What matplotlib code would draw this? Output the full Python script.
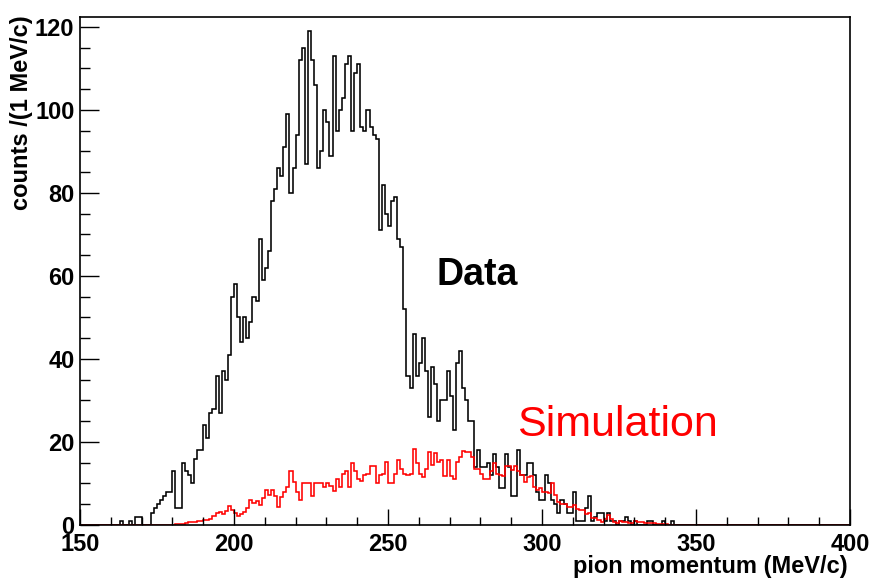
import numpy as np
import matplotlib
matplotlib.use("Agg")
import matplotlib.pyplot as plt
from matplotlib.ticker import MultipleLocator

plt.rcParams['font.family'] = ['Liberation Sans', 'DejaVu Sans']

# 1 MeV/c bins from 150 to 400
bin_edges = np.arange(150, 401, 1)

# measured counts, bins 150..399
data_counts = (
    [0] * 13 +                                            # 150-162
    [1, 0, 0, 1, 0, 2, 2, 0, 0, 0] +                      # 163-172
    [3, 4, 5, 6, 7, 8, 8, 13, 4, 4] +                     # 173-182
    [15, 13, 12, 10, 16, 18, 18, 24, 21, 27] +            # 183-192
    [28, 36, 27, 37, 35, 41, 55, 58, 50, 44] +            # 193-202
    [50, 45, 49, 55, 54, 69, 59, 62, 66, 78] +            # 203-212
    [81, 86, 84, 91, 99, 80, 86, 94, 112, 115] +          # 213-222
    [87, 119, 112, 106, 86, 90, 100, 97, 89, 113] +       # 223-232
    [95, 100, 103, 111, 113, 95, 109, 111, 96, 95] +      # 233-242
    [100, 96, 94, 93, 71, 82, 75, 72, 78, 79] +           # 243-252
    [69, 67, 52, 36, 33, 46, 36, 39, 45, 37] +            # 253-262
    [26, 38, 34, 25, 30, 30, 37, 31, 23, 39] +            # 263-272
    [42, 33, 30, 25, 25, 14, 18, 14, 14, 15] +            # 273-282
    [12, 17, 14, 9, 9, 17, 14, 7, 7, 18] +                # 283-292
    [12, 12, 15, 15, 12, 8, 6, 6, 12, 10] +               # 293-302
    [6, 5, 3, 6, 5, 3, 3, 8, 1, 1] +                      # 303-312
    [1, 4, 7, 1, 2, 3, 3, 1, 3, 1] +                      # 313-322
    [1, 0, 1, 1, 2, 1, 0, 1, 0, 0] +                      # 323-332
    [0, 1, 1, 0, 0, 0, 1, 0, 0, 1] +                      # 333-342
    [0] * 57                                              # 343-399
)

# simulation (scaled), bins 150..399
sim_counts = (
    [0] * 30 +                                            # 150-179
    [0.1, 0.2, 0.2] +                                     # 180-182
    [0.3, 0.5, 0.7, 0.8, 0.8, 1.0, 1.0, 1.2, 1.3, 1.5] +  # 183-192
    [2.2, 3.0, 3.2, 2.6, 3.3, 4.6, 3.6, 2.9, 2.2, 2.6] +  # 193-202
    [3.2, 4.0, 6.0, 5.4, 5.9, 4.8, 6.4, 8.4, 7.2, 8.4] +  # 203-212
    [7.0, 4.4, 6.8, 8.0, 9.1, 12.9, 10.4, 8.0, 6.0, 10.0] +     # 213-222
    [10.2, 10.2, 7.0, 10.2, 10.0, 10.0, 9.2, 10.2, 9.5, 8.3] +  # 223-232
    [11.2, 9.2, 12.4, 12.9, 9.2, 14.9, 13.1, 11.0, 10.7, 12.0] +  # 233-242
    [12.4, 14.2, 14.2, 10.2, 12.0, 12.4, 15.3, 10.0, 10.2, 12.4] +  # 243-252
    [15.6, 13.4, 12.4, 12.0, 12.4, 18.3, 14.9, 12.4, 11.5, 13.4] +  # 253-262
    [17.5, 14.5, 17.3, 15.1, 15.6, 11.7, 15.6, 11.7, 11.2, 15.1] +  # 263-272
    [16.3, 17.9, 17.5, 17.5, 16.5, 13.4, 13.4, 12.4, 11.2, 11.2] +  # 273-282
    [12.9, 15.0, 12.4, 12.0, 11.8, 14.1, 14.1, 13.3, 14.2, 12.9] +  # 283-292
    [12.0, 10.4, 11.5, 11.8, 9.2, 8.4, 8.8, 8.0, 8.0, 7.6] +    # 293-302
    [10.0, 7.2, 5.6, 5.1, 5.1, 4.4, 4.4, 4.8, 3.8, 3.6] +       # 303-312
    [3.6, 2.6, 3.0, 1.8, 1.8, 1.2, 0.8, 1.4, 2.4, 1.4] +        # 313-322
    [0.8, 0.6, 1.0, 0.8, 0.8, 0.6, 0.6, 1.0, 0.8, 0.8] +        # 323-332
    [0.4, 0.4, 0.6, 0.6, 0.3, 0.2, 0.2, 0.2, 0.1, 0.1] +        # 333-342
    [0.1, 0.1] +                                                # 343-344
    [0] * 55                                                    # 345-399
)

fig = plt.figure(figsize=(8.69, 5.80), dpi=100)
ax = fig.add_axes([80 / 869, 55 / 580, 770 / 869, 508 / 580])

ax.stairs(data_counts, bin_edges, color='black', linewidth=1.15)
ax.stairs(sim_counts, bin_edges, color='red', linewidth=1.15)

ax.set_xlim(150, 400)
ax.set_ylim(0, 122.4)

ax.xaxis.set_major_locator(MultipleLocator(50))
ax.xaxis.set_minor_locator(MultipleLocator(10))
ax.yaxis.set_major_locator(MultipleLocator(20))
ax.yaxis.set_minor_locator(MultipleLocator(5))

ax.tick_params(axis='x', which='major', direction='in', length=11.5, width=1, pad=6,
               labelsize=17, top=False)
ax.tick_params(axis='x', which='minor', direction='in', length=5.8, width=1, top=False)
ax.tick_params(axis='y', which='major', direction='in', length=14, width=1, pad=4,
               labelsize=17, right=False)
ax.tick_params(axis='y', which='minor', direction='in', length=7, width=1, right=False)
for lab in ax.get_xticklabels() + ax.get_yticklabels():
    lab.set_fontweight('bold')

for sp in ax.spines.values():
    sp.set_linewidth(1.2)

fig.text(848 / 869, 1 - 567 / 580, 'pion momentum (MeV/c)', ha='right', va='center',
         fontsize=17, fontweight='bold')
fig.text(22 / 869, 1 - 15 / 580, 'counts /(1 MeV/c)', rotation=90, ha='center', va='top',
         fontsize=17, fontweight='bold')

ax.text(0.4636, 0.4724, 'Data', transform=ax.transAxes, fontsize=27,
        fontweight='bold', color='black', va='baseline')
ax.text(0.5675, 0.175, 'Simulation', transform=ax.transAxes, fontsize=31,
        color='red', va='baseline')

fig.savefig('out.png', dpi=100)
